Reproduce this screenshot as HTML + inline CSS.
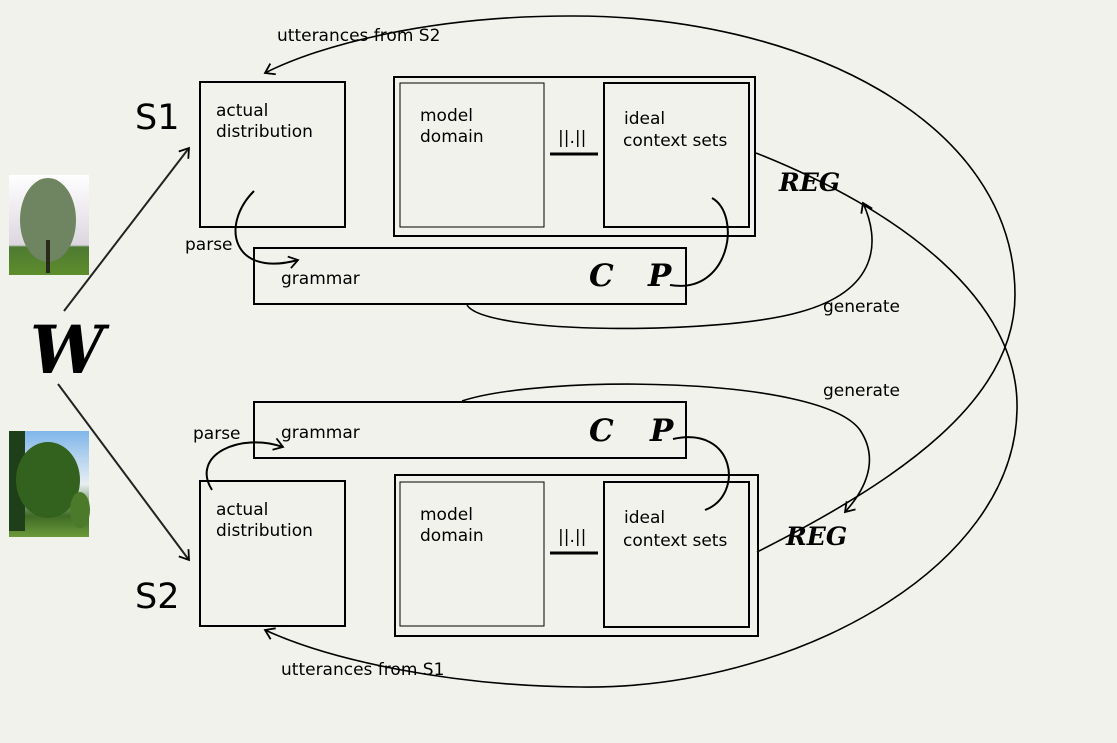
<!DOCTYPE html>
<html><head><style>
html,body{margin:0;padding:0;background:#f2f2ed;}
svg{display:block}
.t{font-family:"DejaVu Sans","Liberation Sans",sans-serif;font-size:17px;fill:#000}
.s{font-family:"DejaVu Sans","Liberation Sans",sans-serif;font-size:35px;fill:#000}
.m{font-family:"DejaVu Serif","Liberation Serif",serif;font-style:italic;font-weight:bold;fill:#000}
</style></head><body>
<svg width="1117" height="743" viewBox="0 0 1117 743" xmlns="http://www.w3.org/2000/svg">
<defs>
<marker id="a" markerWidth="14" markerHeight="14" refX="10" refY="7" orient="auto" markerUnits="userSpaceOnUse">
<path d="M1,1 L10,7 L1,13" fill="none" stroke="#000" stroke-width="1.8"/>
</marker>
<linearGradient id="sky1" x1="0" y1="0" x2="0" y2="1"><stop offset="0" stop-color="#fff"/><stop offset="0.7" stop-color="#ddd6e0"/><stop offset="0.72" stop-color="#4f7a32"/><stop offset="1" stop-color="#5d8d2c"/></linearGradient>
<linearGradient id="sky2" x1="0" y1="0" x2="0" y2="1"><stop offset="0" stop-color="#7fb6ea"/><stop offset="0.5" stop-color="#e8eef3"/><stop offset="0.8" stop-color="#3f6a25"/><stop offset="1" stop-color="#6b9a3a"/></linearGradient>
</defs>
<rect width="1117" height="743" fill="#f2f2ed"/>
<rect x="9" y="175" width="80" height="100" fill="url(#sky1)"/>
<ellipse cx="48" cy="220" rx="28" ry="42" fill="#6f8460"/>
<rect x="46" y="240" width="4" height="33" fill="#2a2a1a"/>
<rect x="9" y="431" width="80" height="106" fill="url(#sky2)"/>
<rect x="9" y="431" width="16" height="100" fill="#1f3f1a"/>
<ellipse cx="48" cy="480" rx="32" ry="38" fill="#33621f"/>
<ellipse cx="80" cy="510" rx="10" ry="18" fill="#4a7a2a"/>
<text class="m" x="30" y="373" font-size="66">W</text>
<line x1="64" y1="311" x2="189" y2="148" stroke="#222" stroke-width="2" marker-end="url(#a)"/>
<line x1="58" y1="384" x2="189" y2="560" stroke="#222" stroke-width="2" marker-end="url(#a)"/>
<text class="s" x="135" y="129">S1</text>
<text class="s" x="135" y="608">S2</text>
<g fill="none" stroke="#000" stroke-width="2">
<rect x="200" y="82" width="145" height="145"/>
<rect x="394" y="77" width="361" height="159"/>
<rect x="400" y="83" width="144" height="144" stroke-width="1"/>
<rect x="604" y="83" width="145" height="144"/>
<rect x="254" y="248" width="432" height="56"/>
<line x1="550" y1="154" x2="598" y2="154" stroke-width="3"/>
<rect x="200" y="481" width="145" height="145"/>
<rect x="395" y="475" width="363" height="161"/>
<rect x="400" y="482" width="144" height="144" stroke-width="1"/>
<rect x="604" y="482" width="145" height="145"/>
<rect x="254" y="402" width="432" height="56"/>
<line x1="550" y1="553" x2="598" y2="553" stroke-width="3"/>
<path d="M254,191 C220,225 232,278 298,260" marker-end="url(#a)"/>
<path d="M212,490 C190,455 240,432 283,447" marker-end="url(#a)"/>
<path d="M712,198 C742,215 730,295 670,285"/>
<path d="M673,439 C735,425 745,495 705,510"/>
<path d="M467,305 C485,335 720,335 800,312 C880,290 880,240 863,203" marker-end="url(#a)" stroke-width="1.6"/>
<path d="M462,401 C540,375 820,375 860,430 C880,460 865,490 845,512" marker-end="url(#a)" stroke-width="1.6"/>
<path d="M756,153 C900,210 1020,300 1017,410 C1014,570 790,690 580,687 C450,686 330,660 265,630" marker-end="url(#a)" stroke-width="1.6"/>
<path d="M757,552 C900,480 1015,400 1015,295 C1015,120 800,15 570,16 C430,16 320,45 265,73" marker-end="url(#a)" stroke-width="1.6"/>
</g>
<text class="t" x="216" y="116">actual</text>
<text class="t" x="216" y="137">distribution</text>
<text class="t" x="216" y="515">actual</text>
<text class="t" x="216" y="536">distribution</text>
<text class="t" x="420" y="121">model</text>
<text class="t" x="420" y="142">domain</text>
<text class="t" x="420" y="520">model</text>
<text class="t" x="420" y="541">domain</text>
<text class="t" x="624" y="124">ideal</text>
<text class="t" x="623" y="146">context sets</text>
<text class="t" x="624" y="523">ideal</text>
<text class="t" x="623" y="546">context sets</text>
<text class="t" x="558" y="143">||.||</text>
<text class="t" x="558" y="542">||.||</text>
<text class="t" x="281" y="284">grammar</text>
<text class="t" x="281" y="438">grammar</text>
<text class="t" x="185" y="250">parse</text>
<text class="t" x="193" y="439">parse</text>
<text class="t" x="823" y="312">generate</text>
<text class="t" x="823" y="396">generate</text>
<text class="t" x="277" y="41">utterances from S2</text>
<text class="t" x="281" y="675">utterances from S1</text>
<text class="m" x="589" y="286" font-size="31">C</text>
<text class="m" x="648" y="286" font-size="31">P</text>
<text class="m" x="589" y="441" font-size="31">C</text>
<text class="m" x="650" y="441" font-size="31">P</text>
<text class="m" x="779" y="191" font-size="25">REG</text>
<text class="m" x="786" y="545" font-size="25">REG</text>
</svg>
</body></html>
